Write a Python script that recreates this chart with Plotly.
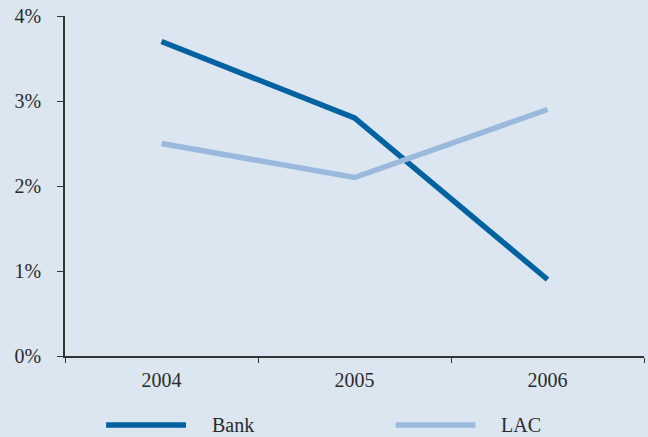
import plotly.graph_objects as go

years = ["2004", "2005", "2006"]
bank = [3.7, 2.8, 0.9]
lac = [2.5, 2.1, 2.9]
y_ticks = [0, 1, 2, 3, 4]
y_tick_labels = ["0%", "1%", "2%", "3%", "4%"]

bank_color = "#0062A0"
lac_color = "#9AB9DD"
bg = "#DCE6F1"
font = dict(family="Liberation Serif, Times New Roman, serif", size=20, color="#2b2b2b")

fig = go.Figure()
fig.add_trace(go.Scatter(x=years, y=bank, mode="lines", name="Bank",
                         line=dict(color=bank_color, width=5.5), showlegend=False))
fig.add_trace(go.Scatter(x=years, y=lac, mode="lines", name="LAC",
                         line=dict(color=lac_color, width=5.5), showlegend=False))

# Legend drawn below the plot with long line swatches
legend_y = -0.203
legend_items = [("Bank", bank_color, 0.071, 0.209, 0.250),
                ("LAC", lac_color, 0.571, 0.709, 0.750)]
for name, color, x0, x1, xt in legend_items:
    fig.add_shape(type="line", xref="paper", yref="paper",
                  x0=x0, x1=x1, y0=legend_y, y1=legend_y,
                  line=dict(color=color, width=5.5))
    fig.add_annotation(text=name, xref="paper", yref="paper", x=xt, y=legend_y,
                       xanchor="left", yanchor="middle", showarrow=False, font=font)

fig.update_layout(
    width=648, height=437,
    margin=dict(l=65, r=4, t=16, b=81),
    paper_bgcolor=bg, plot_bgcolor=bg,
    font=font,
    xaxis=dict(type="category", range=[-0.5, 2.5], showgrid=False, zeroline=False,
               showline=True, linecolor="#333", linewidth=1.5,
               ticks="outside", tickson="boundaries", ticklen=5, tickcolor="#333",
               ticklabelstandoff=5, tickfont=font),
    yaxis=dict(range=[0, 4], tickvals=y_ticks, ticktext=y_tick_labels,
               showgrid=False, zeroline=False,
               showline=True, linecolor="#333", linewidth=1.5,
               ticks="outside", ticklen=6, tickcolor="#333",
               ticklabelstandoff=12, tickfont=font),
)

fig.write_html("out.html")
